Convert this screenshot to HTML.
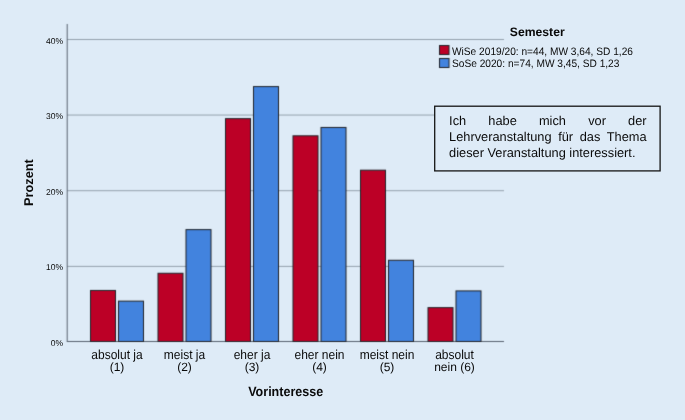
<!DOCTYPE html>
<html><head><meta charset="utf-8"><style>
html,body{margin:0;padding:0;background:#deebf7;}
body{width:685px;height:420px;position:relative;overflow:hidden;font-family:"Liberation Sans",sans-serif;}
.l1{position:absolute;left:0;top:0;width:685px;height:420px;background:#deebf7;filter:url(#bl);}
.l2{position:absolute;left:0;top:0;width:685px;height:420px;will-change:transform;}
svg{position:absolute;left:0;top:0;}
svg text{font-family:"Liberation Sans",sans-serif;fill:#0a0a0a;text-rendering:geometricPrecision;}
.box{position:absolute;left:449.1px;top:0;width:197.5px;font-size:12.8px;color:#0a0a0a;text-rendering:geometricPrecision;}
.box div{position:absolute;left:0;width:197.5px;white-space:nowrap;line-height:15px;}
.j{text-align:justify;text-align-last:justify;}
</style></head><body>
<svg width="0" height="0" style="position:absolute"><defs><filter id="bl" x="0" y="0" width="685" height="420" filterUnits="userSpaceOnUse" color-interpolation-filters="sRGB"><feConvolveMatrix order="3" kernelMatrix="0.01690 0.09620 0.01690 0.09620 0.54760 0.09620 0.01690 0.09620 0.01690" edgeMode="duplicate" preserveAlpha="true"/></filter></defs></svg>
<div class="l1"><svg width="685" height="420" viewBox="0 0 685 420">
<line x1="67" y1="266.40" x2="504" y2="266.40" stroke="#93a0ac" stroke-width="1"/>
<line x1="67" y1="190.70" x2="504" y2="190.70" stroke="#93a0ac" stroke-width="1"/>
<line x1="67" y1="115.05" x2="504" y2="115.05" stroke="#93a0ac" stroke-width="1"/>
<line x1="67" y1="39.50" x2="504" y2="39.50" stroke="#93a0ac" stroke-width="1"/>
<line x1="67.2" y1="24" x2="67.2" y2="342.00" stroke="#57616e" stroke-width="1"/>
<line x1="67" y1="341.50" x2="504" y2="341.50" stroke="#57616e" stroke-width="1"/>
<rect x="90.50" y="290.45" width="25" height="51.05" fill="#bc0026" stroke="#1e2127" stroke-width="1"/>
<rect x="118.50" y="301.14" width="25" height="40.36" fill="#4283de" stroke="#1e2127" stroke-width="1"/>
<rect x="158.00" y="273.27" width="25" height="68.23" fill="#bc0026" stroke="#1e2127" stroke-width="1"/>
<rect x="186.00" y="229.62" width="25" height="111.88" fill="#4283de" stroke="#1e2127" stroke-width="1"/>
<rect x="225.50" y="118.64" width="25" height="222.86" fill="#bc0026" stroke="#1e2127" stroke-width="1"/>
<rect x="253.50" y="86.59" width="25" height="254.91" fill="#4283de" stroke="#1e2127" stroke-width="1"/>
<rect x="293.00" y="135.82" width="25" height="205.68" fill="#bc0026" stroke="#1e2127" stroke-width="1"/>
<rect x="321.00" y="127.46" width="25" height="214.04" fill="#4283de" stroke="#1e2127" stroke-width="1"/>
<rect x="360.50" y="170.18" width="25" height="171.32" fill="#bc0026" stroke="#1e2127" stroke-width="1"/>
<rect x="388.50" y="260.27" width="25" height="81.23" fill="#4283de" stroke="#1e2127" stroke-width="1"/>
<rect x="428.00" y="307.64" width="25" height="33.86" fill="#bc0026" stroke="#1e2127" stroke-width="1"/>
<rect x="456.00" y="290.92" width="25" height="50.58" fill="#4283de" stroke="#1e2127" stroke-width="1"/>
<rect x="439.5" y="45.5" width="9.5" height="9" fill="#bc0026" stroke="#1e2127" stroke-width="1"/>
<rect x="439.5" y="58.5" width="9.5" height="9" fill="#4283de" stroke="#1e2127" stroke-width="1"/>
</svg></div>
<div class="l2"><svg width="685" height="420" viewBox="0 0 685 420">
<text x="63" y="345.90" text-anchor="end" font-size="8.5">0%</text>
<text x="63" y="270.40" text-anchor="end" font-size="8.5">10%</text>
<text x="63" y="194.90" text-anchor="end" font-size="8.5">20%</text>
<text x="63" y="119.40" text-anchor="end" font-size="8.5">30%</text>
<text x="63" y="43.90" text-anchor="end" font-size="8.5">40%</text>
<text transform="translate(117.00,358.9) scale(1,1.09)" text-anchor="middle" font-size="12">absolut ja</text>
<text x="117.00" y="370.6" text-anchor="middle" font-size="12">(1)</text>
<text transform="translate(184.50,358.9) scale(1,1.09)" text-anchor="middle" font-size="12">meist ja</text>
<text x="184.50" y="370.6" text-anchor="middle" font-size="12">(2)</text>
<text transform="translate(252.00,358.9) scale(1,1.09)" text-anchor="middle" font-size="12">eher ja</text>
<text x="252.00" y="370.6" text-anchor="middle" font-size="12">(3)</text>
<text transform="translate(319.50,358.9) scale(1,1.09)" text-anchor="middle" font-size="12">eher nein</text>
<text x="319.50" y="370.6" text-anchor="middle" font-size="12">(4)</text>
<text transform="translate(387.00,358.9) scale(1,1.09)" text-anchor="middle" font-size="12">meist nein</text>
<text x="387.00" y="370.6" text-anchor="middle" font-size="12">(5)</text>
<text transform="translate(454.50,358.9) scale(1,1.09)" text-anchor="middle" font-size="12">absolut</text>
<text x="454.50" y="370.6" text-anchor="middle" font-size="12">nein (6)</text>
<text transform="translate(285.7,395.8) scale(1,1.07)" text-anchor="middle" font-size="12.55" font-weight="bold">Vorinteresse</text>
<text transform="translate(32.5,182.6) rotate(-90)" text-anchor="middle" font-size="12.75" font-weight="bold">Prozent</text>
<text x="509.8" y="36.3" font-size="12.2" font-weight="bold">Semester</text>
<text transform="translate(452,54.8) scale(1,1.06)" font-size="10.17">WiSe 2019/20: n=44, MW 3,64, SD 1,26</text>
<text transform="translate(452,66.8) scale(1,1.06)" font-size="10.17">SoSe 2020: n=74, MW 3,45, SD 1,23</text>
<rect x="434.7" y="106.2" width="225.4" height="64.7" fill="#deebf7" stroke="#141414" stroke-width="1.3"/>
</svg>
<div class="box">
<div class="j" style="top:113.20px">Ich habe mich vor der</div>
<div class="j" style="top:129.00px">Lehrveranstaltung für das Thema</div>
<div style="top:144.60px">dieser Veranstaltung interessiert.</div>
</div>
</div>
</body></html>
